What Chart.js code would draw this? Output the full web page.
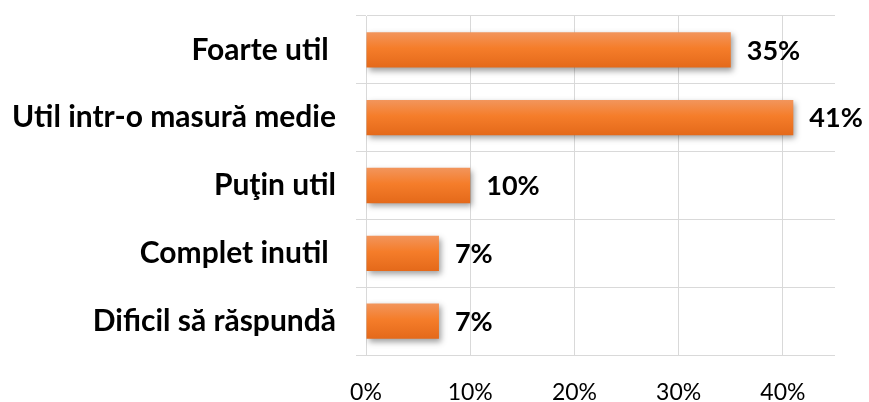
<!DOCTYPE html>
<html>
<head>
<meta charset="utf-8">
<script src="https://cdn.jsdelivr.net/npm/chart.js@4/dist/chart.umd.min.js"></script>
<style>
  html, body { margin: 0; padding: 0; background: #fff; }
  #wrap { width: 869px; height: 402px; }
</style>
</head>
<body>
<div id="wrap"><canvas id="usefulChart" width="869" height="402"></canvas></div>
<script>
const categories = ["Foarte util ", "Util intr-o masură medie", "Puţin util", "Complet inutil ", "Dificil să răspundă"];
const percentValues = [35, 41, 10, 7, 7];
const tickValues = [0, 10, 20, 30, 40];

const fontFamily = "Lato, 'Open Sans', sans-serif";
const barPct = 0.52;

function barGradient(context) {
  const chart = context.chart;
  const yScale = chart.scales.y;
  if (!yScale || !chart.chartArea) {
    return "#f47f30";
  }
  const center = yScale.getPixelForValue(context.dataIndex);
  const half = Math.abs(yScale.getPixelForValue(1) - yScale.getPixelForValue(0)) * barPct / 2;
  const g = chart.ctx.createLinearGradient(0, center - half, 0, center + half);
  g.addColorStop(0, "#f2955c");
  g.addColorStop(0.45, "#f57d2a");
  g.addColorStop(1, "#e4691a");
  return g;
}

const barShadow = {
  id: "barShadow",
  beforeDatasetDraw(chart) {
    const ctx = chart.ctx;
    ctx.save();
    ctx.shadowColor = "rgba(0, 0, 0, 0.38)";
    ctx.shadowBlur = 6;
    ctx.shadowOffsetX = 2;
    ctx.shadowOffsetY = 3;
  },
  afterDatasetDraw(chart) {
    chart.ctx.restore();
  }
};

const valueLabels = {
  id: "valueLabels",
  afterDatasetsDraw(chart) {
    const ctx = chart.ctx;
    const meta = chart.getDatasetMeta(0);
    ctx.save();
    ctx.font = "bold 27px " + fontFamily;
    ctx.fillStyle = "#000";
    ctx.textAlign = "left";
    ctx.textBaseline = "middle";
    meta.data.forEach(function(bar, i) {
      ctx.fillText(percentValues[i] + "%", bar.x + 16, bar.y + 1);
    });
    ctx.restore();
  }
};

new Chart(document.getElementById("usefulChart").getContext("2d"), {
  type: "bar",
  data: {
    labels: categories,
    datasets: [{
      data: percentValues,
      backgroundColor: barGradient,
      borderWidth: 0,
      barPercentage: barPct,
      categoryPercentage: 1
    }]
  },
  options: {
    indexAxis: "y",
    responsive: false,
    animation: false,
    layout: { padding: { top: 16, right: 34, left: 0, bottom: 0 } },
    plugins: {
      legend: { display: false },
      tooltip: { enabled: false }
    },
    scales: {
      x: {
        min: 0,
        max: 45,
        afterBuildTicks: function(axis) {
          axis.ticks = tickValues.map(function(v) { return { value: v }; });
        },
        afterFit: function(axis) {
          axis.height = 47;
          axis.paddingLeft = 0;
          axis.paddingRight = 0;
        },
        grid: { color: "#d9d9d9", lineWidth: 1, drawTicks: false },
        border: { display: false },
        ticks: {
          padding: 24,
          color: "#000",
          font: { family: fontFamily, size: 23 },
          callback: function(v) { return v + "%"; }
        }
      },
      y: {
        afterFit: function(axis) {
          axis.width = 366;
          axis.paddingTop = 0;
          axis.paddingBottom = 0;
        },
        grid: { color: "#d9d9d9", lineWidth: 1, offset: true, tickLength: 10 },
        border: { display: true, color: "#d9d9d9" },
        ticks: {
          padding: 20,
          color: "#000",
          font: { family: fontFamily, size: 30, weight: "bold" }
        }
      }
    }
  },
  plugins: [barShadow, valueLabels]
});
</script>
</body>
</html>
